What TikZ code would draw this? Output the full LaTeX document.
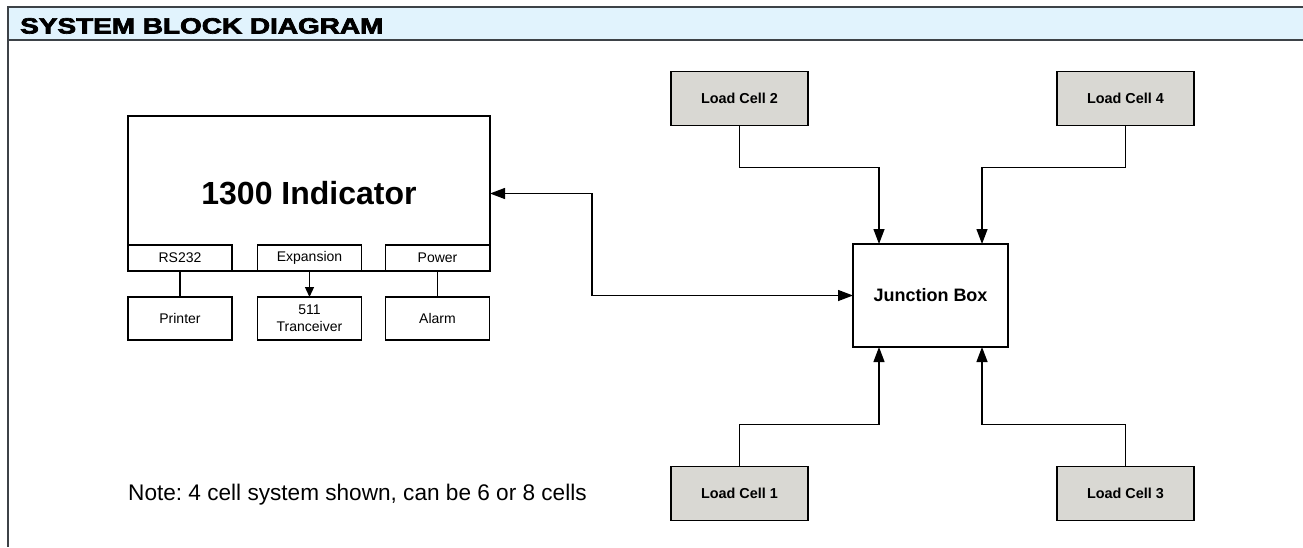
\documentclass[tikz,border=0pt]{standalone}
\usepackage{fontspec}
\setmainfont{Liberation Sans}
\newfontfamily\titlefont{Liberation Sans}[BoldFeatures={FakeBold=3}]
\usetikzlibrary{arrows.meta}
\definecolor{hdrfill}{HTML}{E1F3FD}
\definecolor{hdrline}{HTML}{3D4247}
\definecolor{cellgray}{HTML}{D9D8D3}
\frenchspacing
\tikzset{
  box/.style={draw, line width=1.4pt, inner sep=0pt, outer sep=0pt, align=center,
    font=\fontsize{14}{17}\selectfont},
  cellbox/.style={box, fill=cellgray, minimum width=137pt, minimum height=54pt,
    font=\bfseries\fontsize{14.4}{17}\selectfont},
  subbox/.style={box, minimum width=104pt, minimum height=26pt},
  lowbox/.style={box, minimum width=104pt, minimum height=43pt},
  conn/.style={line width=1.3pt},
  arr/.style={conn, -{Triangle[length=15pt,width=11pt]}},
  biarr/.style={conn, {Triangle[length=15pt,width=11pt]}-{Triangle[length=15pt,width=11pt]}},
  smallarr/.style={conn, -{Triangle[length=10pt,width=9pt]}}
}
\begin{document}
\begin{tikzpicture}[x=1pt,y=-1pt]
\useasboundingbox (0,0) rectangle (1303,547);
% header band and frame
\fill[hdrfill] (8,7) rectangle (1303,40);
\draw[hdrline, line width=2pt] (8,7) -- (1303,7);
\draw[hdrline, line width=2pt] (8,40) -- (1303,40);
\draw[hdrline, line width=1.6pt] (8,6) -- (8,547);
\node[anchor=base west, inner sep=0pt] (title) at (20,33.5)
  {\scalebox{1.27}[1]{\titlefont\bfseries\fontsize{22}{24}\selectfont SYSTEM BLOCK DIAGRAM}};

% indicator
\node[box, minimum width=362pt, minimum height=155pt,
  font=\bfseries\fontsize{32}{36}\selectfont] (ind) at (309,193.5) {1300 Indicator};
\node[subbox] (rs) at (180,258) {RS232};
\node[subbox] (exp) at (309.5,258) {Expansion};
\node[subbox] (pow) at (437.5,258) {Power};
\node[lowbox] (prn) at (180,318.5) {Printer};
\node[lowbox] (trx) at (309.5,318.5) {511\\Tranceiver};
\node[lowbox] (alm) at (437.5,318.5) {Alarm};
\draw[conn] (rs.south) -- (prn.north);
\draw[smallarr] (exp.south) -- (trx.north);
\draw[conn] (pow.south) -- (alm.north);

% junction box
\node[box, line width=2.8pt, minimum width=155pt, minimum height=103pt,
  font=\bfseries\fontsize{18}{20}\selectfont] (jb) at (930.5,295.5) {Junction Box};
\coordinate (jn1) at ([xshift=-51.5pt]jb.north);
\coordinate (jn2) at ([xshift=51.5pt]jb.north);
\coordinate (js1) at ([xshift=-51.5pt]jb.south);
\coordinate (js2) at ([xshift=51.5pt]jb.south);

% load cells
\node[cellbox] (lc2) at (739.5,98.5) {Load Cell 2};
\node[cellbox] (lc4) at (1125.5,98.5) {Load Cell 4};
\node[cellbox] (lc1) at (739.5,493.5) {Load Cell 1};
\node[cellbox] (lc3) at (1125.5,493.5) {Load Cell 3};

\draw[arr] (lc2.south) -- ++(0,42) -| (jn1);
\draw[arr] (lc4.south) -- ++(0,42) -| (jn2);
\draw[arr] (lc1.north) -- ++(0,-42) -| (js1);
\draw[arr] (lc3.north) -- ++(0,-42) -| (js2);

\draw[biarr] (ind.east) -- ++(102,0) |- (jb.west);

% note
\node[anchor=base west, inner sep=0pt, font=\fontsize{22.6}{26}\selectfont] (note) at (128,500)
  {Note: 4 cell system shown, can be 6 or 8 cells};
\end{tikzpicture}
\end{document}
